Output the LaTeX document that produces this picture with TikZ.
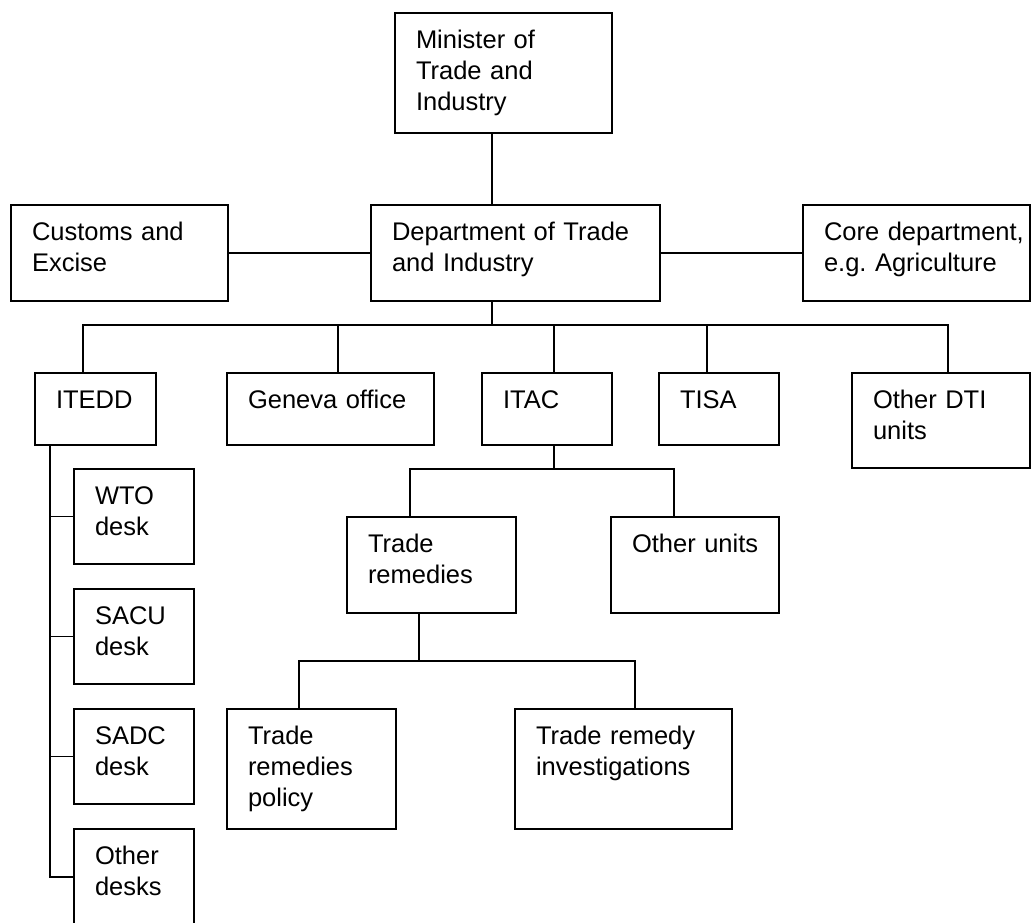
\documentclass[tikz,border=0pt]{standalone}
\usepackage{fontspec}
\setmainfont{Liberation Sans}
\usetikzlibrary{positioning}
\hyphenpenalty=10000
\exhyphenpenalty=10000

\tikzset{
  unit/.code 2 args={\pgfmathsetlengthmacro\unitw{#1-42pt}\pgfmathsetlengthmacro\unitd{#2-35pt}%
    \tikzset{draw, line width=1.3pt, outer sep=0pt, anchor=north west, align=left, inner xsep=21pt, inner ysep=0pt,
      text height=35pt, text depth=\unitd, text width=\unitw, font=\fontsize{25.5}{31}\selectfont}},
  link/.style={line width=1.3pt}
}

\begin{document}
\begin{tikzpicture}[x=1pt, y=-1pt, node distance=25pt]
    \path[fill=white, use as bounding box] (0,0) rectangle (1031,922);

    \node[unit={217}{120}] (minister) at (395,13) {Minister of\\Trade and\\Industry};
    \node[unit={289}{96}] (dti) at (371,205) {Department~of~Trade\\and Industry};
    \node[unit={217}{96}] (customs) at (11,205) {Customs and\\Excise};
    \node[unit={227}{96}] (core) at (803,205) {Core~department,\\e.g.~Agriculture};

    \node[unit={121}{72}] (itedd) at (35,373) {ITEDD};
    \node[unit={207}{72}] (geneva) at (227,373) {Geneva~office};
    \node[unit={130}{72}] (itac) at (482,373) {ITAC};
    \node[unit={120}{72}] (tisa) at (659,373) {TISA};
    \node[unit={178}{95}] (otherdti) at (852,373) {Other DTI\\units};

    \node[unit={120}{95}] (wto) at (74,469) {WTO\\desk};
    \node[unit={120}{95}, below=of wto] (sacu) {SACU\\desk};
    \node[unit={120}{95}, below=of sacu] (sadc) {SADC\\desk};
    \node[unit={120}{96}, below=of sadc] (otherdesks) {Other\\desks};

    \node[unit={169}{96}] (remedies) at (347,517) {Trade\\remedies};
    \node[unit={168}{96}] (otherunits) at (611,517) {Other~units};
    \node[unit={169}{120}] (policy) at (227,709) {Trade\\remedies\\policy};
    \node[unit={217}{120}] (investig) at (515,709) {Trade~remedy\\investigations};

    \coordinate (hub) at (492,325);
    \coordinate (b_1) at (83,325);
    \coordinate (b_2) at (338,325);
    \coordinate (b_3) at (554,325);
    \coordinate (b_4) at (707,325);
    \coordinate (b_5) at (948,325);
    \coordinate (c_1) at (410,469);
    \coordinate (c_2) at (674,469);
    \coordinate (d_0) at (419,661);
    \coordinate (d_1) at (299,661);
    \coordinate (d_2) at (635,661);
    \coordinate (spine) at (50,877);

    \draw[link] (minister.south -| hub) -- (dti.north -| hub);
    \draw[link] (dti.south -| hub) -- (hub);
    \draw[link] (customs) -- (dti);
    \draw[link] (dti) -- (core);

    \draw[link] (b_1 |- itedd.north) -- (b_1) -- (b_5) -- (b_5 |- otherdti.north);
    \foreach \u/\b in {geneva/b_2, itac/b_3, tisa/b_4}
        \draw[link] (\b) -- (\b |- \u.north);

    \draw[link] (itac.south -| b_3) -- (b_3 |- c_1);
    \draw[link] (c_1 |- remedies.north) -- (c_1) -- (c_2) -- (c_2 |- otherunits.north);

    \draw[link] (remedies.south -| d_0) -- (d_0);
    \draw[link] (d_1 |- policy.north) -- (d_1) -- (d_2) -- (d_2 |- investig.north);

    \draw[link] (itedd.south -| spine) -- (spine |- otherdesks.west) -- (otherdesks.west);
    \foreach \d in {wto, sacu, sadc}
        \draw[link] (spine |- \d.west) -- (\d.west);

\end{tikzpicture}
\end{document}
